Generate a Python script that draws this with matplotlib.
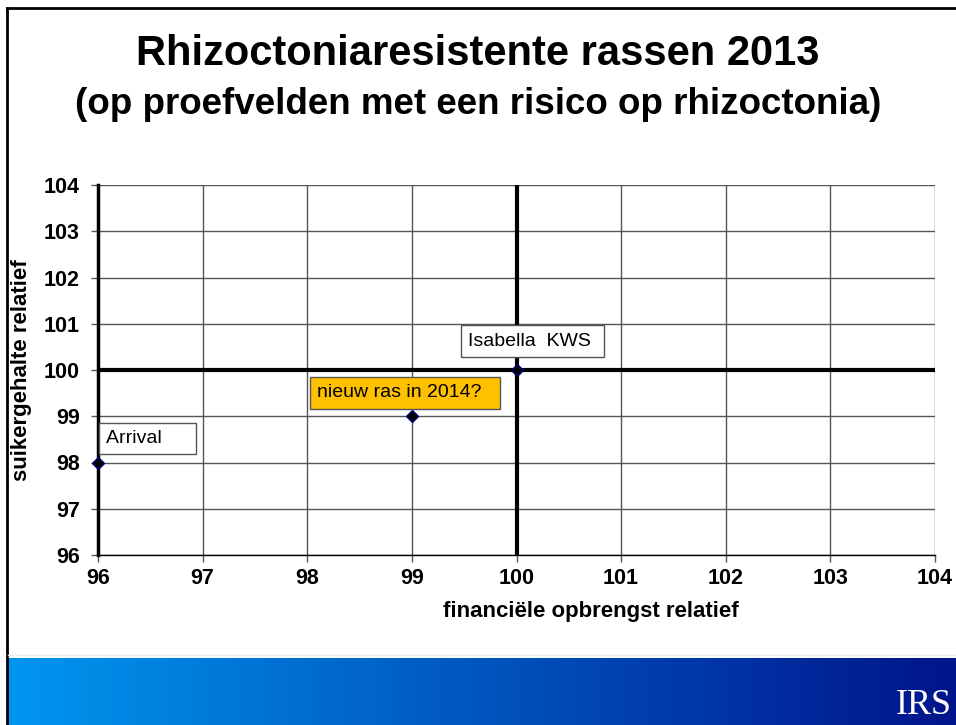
import numpy as np
import matplotlib
matplotlib.use('Agg')
import matplotlib.pyplot as plt
from matplotlib.lines import Line2D

plt.rcParams['font.family'] = ['Liberation Sans', 'DejaVu Sans']

# data
names = ['Arrival', 'nieuw ras in 2014?', 'Isabella  KWS']
opbrengst = [96, 99, 100]
suiker = [98, 99, 100]
xticks = [96, 97, 98, 99, 100, 101, 102, 103, 104]
yticks = [96, 97, 98, 99, 100, 101, 102, 103, 104]

fig = plt.figure(figsize=(9.56, 7.25), dpi=100)
fig.patch.set_facecolor('white')

# slide frame
fig.add_artist(Line2D([7/956, 1], [1-8/725, 1-8/725], color='black', lw=2))
fig.add_artist(Line2D([7/956, 7/956], [0, 1-8/725], color='black', lw=2))

fig.text(0.5, 1-54/725, 'Rhizoctoniaresistente rassen 2013', ha='center', va='center',
         fontsize=30, fontweight='bold')
fig.text(0.5, 1-104/725, '(op proefvelden met een risico op rhizoctonia)', ha='center', va='center',
         fontsize=26.5, fontweight='bold')

ax = fig.add_axes([98/956, 1-555/725, 837/956, 370/725])
ax.set_xlim(96, 104)
ax.set_ylim(96, 104)
ax.set_xticks(xticks)
ax.set_yticks(yticks)
ax.grid(True, color='#555555', lw=1)
ax.set_axisbelow(True)
for s in ['top', 'right']:
    ax.spines[s].set_visible(False)
ax.spines['left'].set_linewidth(2.5)
ax.spines['bottom'].set_linewidth(1)
ax.tick_params(length=5, width=1, color='#555555', labelsize=15.5)
ax.tick_params(axis='x', pad=4)
ax.tick_params(axis='y', pad=8)
for lab in ax.get_xticklabels() + ax.get_yticklabels():
    lab.set_fontweight('bold')

# axis lines through 100
ax.axhline(100, color='black', lw=3, zorder=3)
ax.plot([100, 100], [96.05, 104], color='black', lw=3, zorder=3)

ax.plot(opbrengst, suiker, linestyle='none', marker='D', markersize=6.5,
        markerfacecolor='black', markeredgecolor='#000080', zorder=5, clip_on=False)

ax.text(96.076, 98.52, names[0] + '     ', ha='left', va='center', fontsize=14,
        bbox=dict(boxstyle='square,pad=0.38', fc='white', ec='#555555', lw=1), zorder=6)
ax.text(98.093, 99.51, names[1] + '  ', ha='left', va='center', fontsize=14,
        bbox=dict(boxstyle='square,pad=0.38', fc='#FFC000', ec='#555555', lw=1), zorder=6)
ax.text(99.536, 100.62, names[2] + ' ', ha='left', va='center', fontsize=14,
        bbox=dict(boxstyle='square,pad=0.38', fc='white', ec='#555555', lw=1), zorder=6)

fig.text(591/956, 1-612/725, 'financiële opbrengst relatief', ha='center', va='center',
         fontsize=16, fontweight='bold')
fig.text(22/956, 1-370/725, 'suikergehalte relatief', ha='center', va='center',
         fontsize=16, fontweight='bold', rotation=90)

# blue band at the bottom
band = fig.add_axes([8/956, 0, 1-8/956, 67/725])
grad = np.linspace(0, 1, 256)
left = np.array([0, 150, 240]) / 255
right = np.array([0, 20, 140]) / 255
img = (left[None, :] * (1 - grad[:, None]) + right[None, :] * grad[:, None])[None, :, :]
band.imshow(img, aspect='auto', extent=[0, 1, 0, 1])
band.set_axis_off()
fig.add_artist(Line2D([8/956, 1], [1-655/725, 1-655/725], color='#e8eef8', lw=1))
fig.text(924/956, 1-706/725, 'IRS', ha='center', va='center', color='white',
         fontsize=26, family='Liberation Serif')

fig.savefig('out.png', dpi=100)
